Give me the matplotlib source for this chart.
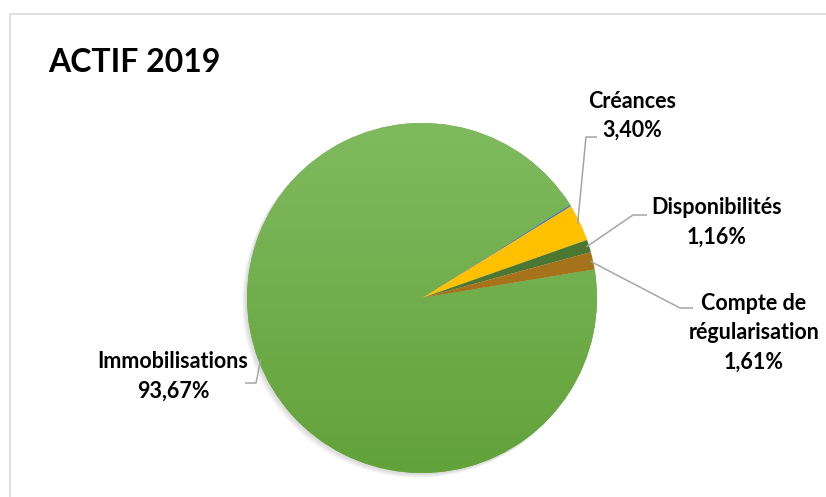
import numpy as np
import matplotlib.pyplot as plt
from matplotlib.colors import LinearSegmentedColormap
from matplotlib.patches import Circle

plt.rcParams['font.family'] = ['Lato', 'DejaVu Sans']

# ---------------- data ----------------
names = ["Immobilisations", "", "Créances", "Disponibilités", "Compte de\nrégularisation"]
values = [93.67, 0.16, 3.40, 1.16, 1.61]   # 2nd slice: tiny unlabeled slice
pct_labels = ["93,67%", "", "3,40%", "1,16%", "1,61%"]
colors = ["#70AD47", "#4472C4", "#FFC000", "#4A7731", "#A7731A"]

W, H = 826, 497

def py(y):  # image y (from top) -> axis y
    return H - y

fig = plt.figure(figsize=(W / 100, H / 100), dpi=100)
ax = fig.add_axes([0, 0, 1, 1])

cx, cy, r = 422, py(298), 175

# soft shadow
for i in range(6):
    ax.add_patch(Circle((cx - 1 - i * 0.7, cy - 1 - i * 0.7), r + 0.5,
                        color="black", alpha=0.025, lw=0, zorder=0.5))

wedges, _ = ax.pie(values, colors=colors, startangle=9.4, counterclock=False,
                   center=(cx, cy), radius=r, wedgeprops=dict(linewidth=0))

# gradient on the big slice
grad = np.linspace(0, 1, 256)[:, None]
cmap = LinearSegmentedColormap.from_list("g", ["#62A23A", "#80BA5F"])
im = ax.imshow(grad, extent=(cx - r, cx + r, cy - r, cy + r), origin="lower",
               cmap=cmap, aspect="auto", zorder=1.5)
im.set_clip_path(wedges[0])

ax.set_xlim(0, W)
ax.set_ylim(0, H)
ax.set_aspect("equal")
ax.axis("off")

# ---------------- labels ----------------
# (label centre x, first line y, leader elbow, leader end) in image pixels
label_pos = {
    0: (173, 362, (256, 383), (245, 383)),
    2: (632, 101, (586, 137), (597, 137)),
    3: (717, 208, (633, 215), (647, 215)),
    4: (754, 303, (680, 308), (693, 308)),
}
line_step = 29.5
for i, (lx, ly, elbow, end) in label_pos.items():
    w = wedges[i]
    mid = np.deg2rad((w.theta1 + w.theta2) / 2)
    sx, sy = cx + 0.985 * r * np.cos(mid), cy + 0.985 * r * np.sin(mid)
    ax.plot([sx, elbow[0], end[0]], [sy, py(elbow[1]), py(end[1])],
            color="#A6A6A6", lw=1.1, zorder=3, solid_capstyle="butt")
    lines = names[i].split("\n") + [pct_labels[i]]
    for k, t in enumerate(lines):
        ax.text(lx, py(ly + k * line_step), t, ha="center", va="center",
                fontsize=15.5, fontweight="bold", color="black", zorder=4)

# title
ax.text(48, py(62), "ACTIF 2019", ha="left", va="center", fontsize=23,
        fontweight="bold", color="black")

# chart frame (top and left edges visible)
ax.plot([9.5, 9.5, W], [0, py(14), py(14)], color="#D9D9D9", lw=1.2, zorder=5)

fig.savefig("out.png", dpi=100)
